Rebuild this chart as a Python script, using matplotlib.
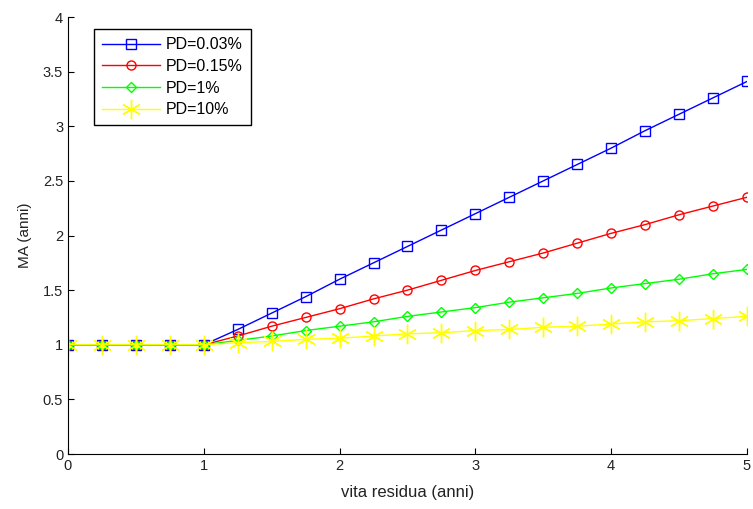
import matplotlib
matplotlib.use('Agg')
import matplotlib.pyplot as plt
import numpy as np

plt.rcParams['font.family'] = ['Liberation Sans', 'DejaVu Sans']

x = [0, 0.25, 0.5, 0.75, 1, 1.25, 1.5, 1.75, 2, 2.25, 2.5, 2.75, 3,
     3.25, 3.5, 3.75, 4, 4.25, 4.5, 4.75, 5]
flat = [1, 1, 1, 1, 1]
pd_003 = flat + [1.14, 1.29, 1.44, 1.60, 1.75, 1.90, 2.05, 2.20,
                 2.35, 2.50, 2.65, 2.80, 2.96, 3.11, 3.26, 3.41]
pd_015 = flat + [1.08, 1.17, 1.25, 1.33, 1.42, 1.50, 1.59, 1.68,
                 1.76, 1.84, 1.93, 2.02, 2.10, 2.19, 2.27, 2.35]
pd_1 = flat + [1.04, 1.08, 1.13, 1.17, 1.21, 1.26, 1.30, 1.34,
               1.39, 1.43, 1.47, 1.52, 1.56, 1.60, 1.65, 1.69]
pd_10 = flat + [1.02, 1.03, 1.05, 1.06, 1.08, 1.10, 1.11, 1.13,
                1.14, 1.16, 1.17, 1.19, 1.21, 1.22, 1.24, 1.26]

fig = plt.figure(figsize=(7.53, 5.09), dpi=100)
ax = fig.add_axes([0.0903, 0.108, 0.9017, 0.8586])

ax.plot(x, pd_003, color='#0000ff', marker='s', markersize=6.5, markerfacecolor='none',
        lw=1, label='PD=0.03%')
ax.plot(x, pd_015, color='#ff0000', marker='o', markersize=6.5, markerfacecolor='none',
        lw=1, label='PD=0.15%')
ax.plot(x, pd_1, color='#00ff00', marker='D', markersize=5, markerfacecolor='none',
        lw=1, label='PD=1%')
ax.plot(x, pd_10, color='#ffff00', marker=(6, 2, 0), markersize=14, markeredgewidth=1,
        lw=1, label='PD=10%')

ax.set_xlim(0, 5)
ax.set_ylim(0, 4)
ax.set_xticks([0, 1, 2, 3, 4, 5])
ax.set_yticks(np.arange(0, 4.01, 0.5))
ax.set_yticklabels(['0', '0.5', '1', '1.5', '2', '2.5', '3', '3.5', '4'])
ax.tick_params(direction='in', labelsize=10.5, length=4, labelcolor='#222222')
ax.spines['top'].set_visible(False)
ax.spines['right'].set_visible(False)
ax.set_xlabel('vita residua (anni)', fontsize=12, color='#222222', labelpad=9)
ax.set_ylabel('MA (anni)', fontsize=11, color='#222222', labelpad=8)

leg = ax.legend(loc='upper left', bbox_to_anchor=(0.027, 0.99), fontsize=11.5,
                fancybox=False, framealpha=1, edgecolor='black', borderpad=0.5,
                handlelength=3.6, labelspacing=0.42, handletextpad=0.4)
leg.get_frame().set_linewidth(1)

fig.savefig('out.png', dpi=100)
